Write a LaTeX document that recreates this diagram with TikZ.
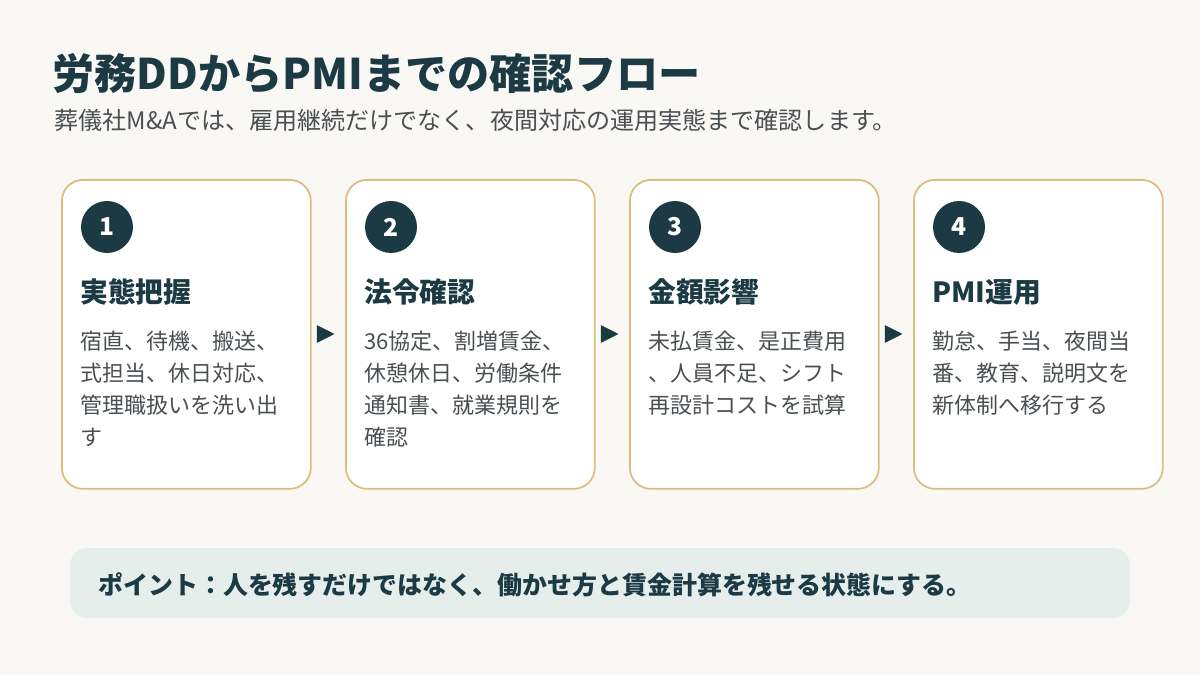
\documentclass[tikz,border=0pt]{standalone}
\usepackage{fontspec}
\setmainfont{Noto Sans CJK JP}
\usetikzlibrary{positioning,arrows.meta}
\definecolor{navy}{HTML}{1B3A44}
\definecolor{gold}{HTML}{D8C07C}
\definecolor{paper}{HTML}{F9F8F4}
\definecolor{note}{HTML}{E6EEEC}
\definecolor{body}{HTML}{4A4F52}
\begin{document}
\begin{tikzpicture}[
    x=0.02cm, y=-0.02cm,
    card/.style={draw=gold, line width=1pt, rounded corners=12pt, fill=white, minimum width=4.98cm, minimum height=6.18cm, anchor=north west},
    num/.style={circle, fill=navy, text=white, minimum size=1.04cm, inner sep=0pt, font=\fontsize{14}{14}\selectfont\bfseries},
    head/.style={anchor=west, inner sep=0pt, text=navy, font=\fontsize{15.8}{15.8}\selectfont\bfseries},
    desc/.style={anchor=north west, inner sep=0pt, text=body, align=left, font=\fontsize{12.5}{18.2}\selectfont},
    arrow/.style={-{Triangle[length=10pt,width=10pt]}, navy, line width=0.5pt, shorten >=6pt, shorten <=3pt}
]
    \fill[paper] (0,0) rectangle (1200,675);
    \useasboundingbox (0,0) rectangle (1200,675);

    % Title
    \node[anchor=west, inner sep=0pt, text=navy, font=\fontsize{24}{24}\selectfont\bfseries] (title) at (52,74) {労務DDからPMIまでの確認フロー};
    \node[anchor=west, inner sep=0pt, text=body, font=\fontsize{13.7}{13.7}\selectfont] (sub) at (54,120) {葬儀社M\&Aでは、雇用継続だけでなく、夜間対応の運用実態まで確認します。};

    % Steps
    \node[card] (s1) at (61,179) {};
    \node[card] (s2) at (345,179) {};
    \node[card] (s3) at (629,179) {};
    \node[card] (s4) at (913,179) {};

    \node[num] (n1) at (107,227) {1};
    \node[num] (n2) at (391,227) {2};
    \node[num] (n3) at (675,227) {3};
    \node[num] (n4) at (959,227) {4};

    \node[head] (h1) at (80,292) {実態把握};
    \node[head] (h2) at (364,292) {法令確認};
    \node[head] (h3) at (648,292) {金額影響};
    \node[head] (h4) at (932,292) {PMI運用};

    \node[desc] (d1) at (80,331) {宿直、待機、搬送、\\式担当、休日対応、\\管理職扱いを洗い出\\す};
    \node[desc] (d2) at (364,331) {36協定、割増賃金、\\休憩休日、労働条件\\通知書、就業規則を\\確認};
    \node[desc] (d3) at (648,331) {未払賃金、是正費用\\、人員不足、シフト\\再設計コストを試算};
    \node[desc] (d4) at (932,331) {勤怠、手当、夜間当\\番、教育、説明文を\\新体制へ移行する};

    % Arrows between steps
    \draw[arrow] (s1.east |- 0,334) -- (s2.west |- 0,334);
    \draw[arrow] (s2.east |- 0,334) -- (s3.west |- 0,334);
    \draw[arrow] (s3.east |- 0,334) -- (s4.west |- 0,334);

    % Point
    \fill[note, rounded corners=10pt] (70,548) rectangle (1130,618);
    \node[anchor=west, inner sep=0pt, text=navy, font=\fontsize{14.2}{14.2}\selectfont\bfseries] (point) at (98,585) {ポイント：人を残すだけではなく、働かせ方と賃金計算を残せる状態にする。};
\end{tikzpicture}
\end{document}
